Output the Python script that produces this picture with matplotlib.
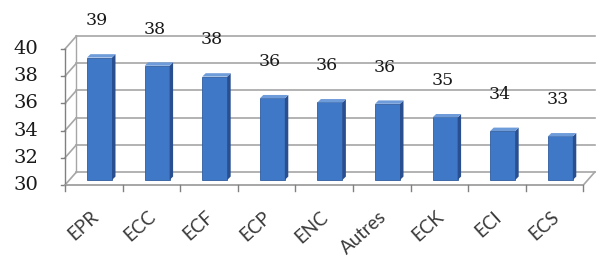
import matplotlib
matplotlib.use("Agg")
import matplotlib.pyplot as plt
from matplotlib.patches import Polygon

# values
categories = ['EPR', 'ECC', 'ECF', 'ECP', 'ENC', 'Autres', 'ECK', 'ECI', 'ECS']
values = [39.0, 38.4, 37.6, 36.0, 35.7, 35.6, 34.6, 33.6, 33.2]
yticks = [30, 32, 34, 36, 38, 40]

# pseudo-3D geometry (data units)
dx, dy = 0.2, 0.96       # wall depth
bdx, bdy = 0.06, 0.25    # bar depth
base = 30 + 0.37         # bars stand halfway into the floor
grid_col = '#a6a6a6'
front_col = '#4078c8'
side_col = '#2a4f90'
top_col = '#6e9bd9'

fig = plt.figure(figsize=(6.01, 2.58), dpi=100)
ax = fig.add_axes([0, 0, 1, 1])
ax.set_xlim(-1.128, 9.306)
ax.set_ylim(24.632, 43.603)
ax.axis('off')

n = len(categories)

# back wall grid and left wall diagonals
for v in yticks:
    ax.plot([dx, n + dx], [v + dy, v + dy], color=grid_col, lw=1.2, zorder=1)
    ax.plot([0, dx], [v, v + dy], color=grid_col, lw=1.2, zorder=1)
    ax.plot([-0.07, 0], [v, v], color='#808080', lw=1, zorder=1)
    ax.text(-0.47, v, str(v), ha='right', va='center', fontsize=14,
            family='DejaVu Serif', color='#1a1a1a')
ax.plot([0, 0], [30, 40], color='#808080', lw=1, zorder=1)
ax.plot([dx, dx], [30 + dy, 40 + dy], color=grid_col, lw=1, zorder=1)

# floor front edge with ticks
ax.plot([0, n], [30, 30], color=grid_col, lw=1.4, zorder=1)
ax.plot([n, n + dx], [30, 30 + dy], color=grid_col, lw=1.2, zorder=1)
for i in range(n + 1):
    ax.plot([i, i], [30, 29.55], color='#808080', lw=1, zorder=1)

# bars: front faces through ax.bar, side and top faces from their geometry
xs = [i + 0.6 for i in range(n)]
heights = [v - 30 for v in values]
bars = ax.bar(xs, heights, width=0.434, bottom=base, color=front_col,
              edgecolor='#2f5c9e', linewidth=0.6, zorder=3)
for b, v in zip(bars, values):
    x0 = b.get_x()
    x1 = x0 + b.get_width()
    top = b.get_y() + b.get_height()
    ax.add_patch(Polygon([(x1, base), (x1 + bdx, base + bdy),
                          (x1 + bdx, top + bdy), (x1, top)],
                         closed=True, facecolor=side_col, edgecolor='none', zorder=3))
    ax.add_patch(Polygon([(x0, top), (x1, top), (x1 + bdx, top + bdy),
                          (x0 + bdx, top + bdy)],
                         closed=True, facecolor=top_col, edgecolor='none', zorder=3))
    ax.text(x0 + b.get_width() / 2 - 0.05, top + 2.7, str(round(v)),
            ha='center', va='center', fontsize=12.5, family='DejaVu Serif',
            color='#1a1a1a', zorder=4)

# category labels, rotated
for i, lab in enumerate(categories):
    ax.text(i + 0.53, 27.85, lab, rotation=42, rotation_mode='anchor',
            ha='right', va='center', fontsize=13.5, family='Lato',
            color='#3a3a3a')

fig.savefig('out.png', dpi=100)
